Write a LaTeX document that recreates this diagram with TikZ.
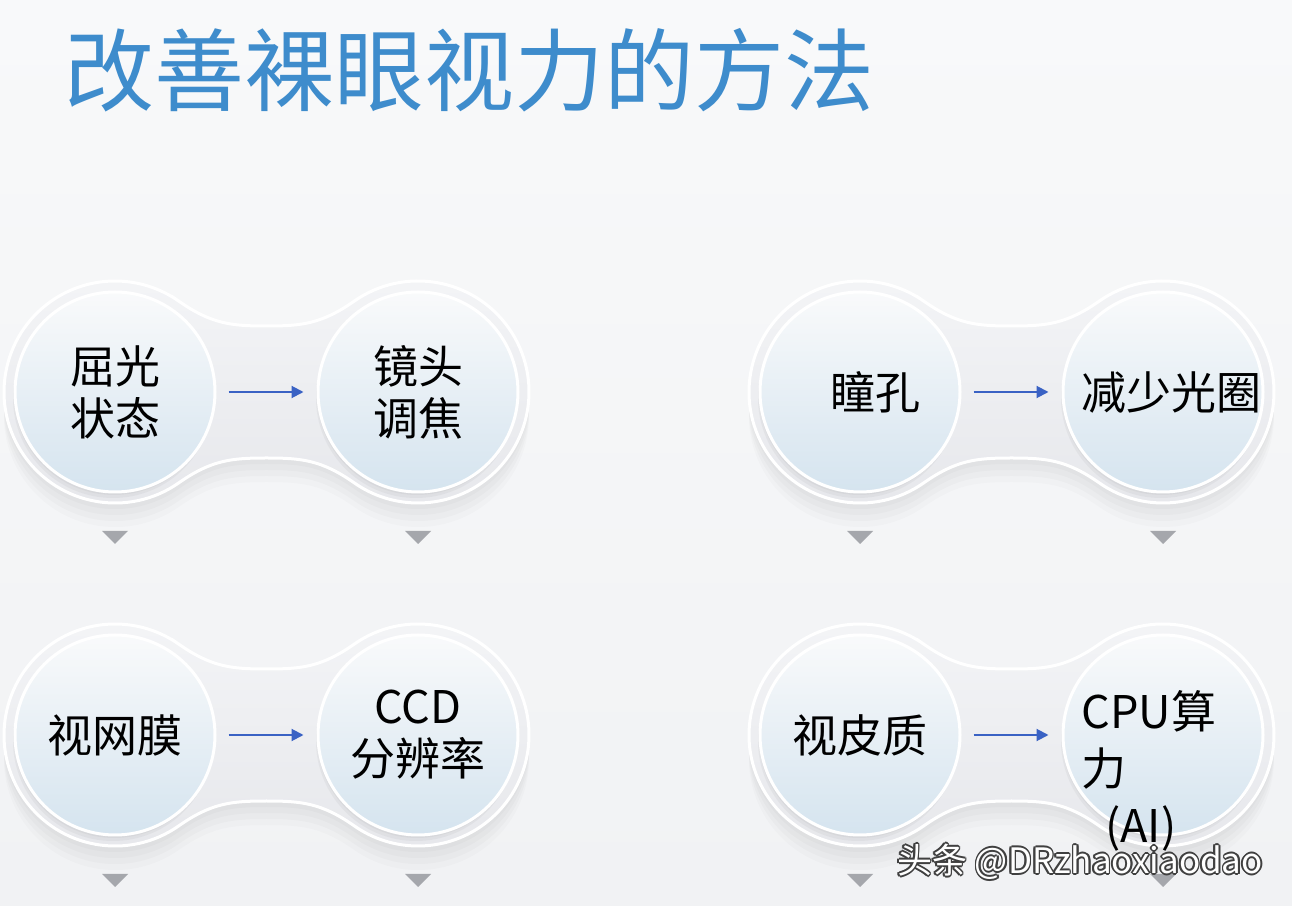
\documentclass[tikz,border=0pt]{standalone}
\usepackage{fontspec}
\setmainfont{Noto Sans CJK SC}
\usetikzlibrary{arrows.meta,shadows}

\definecolor{titleblue}{RGB}{62,140,204}
\definecolor{arrowblue}{RGB}{58,98,196}
\definecolor{markgray}{RGB}{165,167,172}
\definecolor{bgtop}{RGB}{248,249,250}
\definecolor{bgbot}{RGB}{241,242,244}
\definecolor{pilltop}{RGB}{244,245,247}
\definecolor{pillbot}{RGB}{230,231,235}
\definecolor{circtop}{RGB}{249,250,251}
\definecolor{circbot}{RGB}{213,228,239}

\pgfdeclarelayer{bg}
\pgfdeclarelayer{back}
\pgfsetlayers{bg,back,main}

% outline of one double-lens holder, left lens centre at the origin
\newcommand{\lensholder}{(55:111)
  .. controls +(-35:40) and +(-35,0) .. (151.5,66)
  .. controls +(35,0) and +(-145:40) .. (239.33,90.93)
  arc[start angle=125, end angle=-125, radius=111]
  .. controls +(145:40) and +(35,0) .. (151.5,-66)
  .. controls +(-35,0) and +(35:40) .. (63.67,-90.93)
  arc[start angle=-55, end angle=-305, radius=111] -- cycle}

\begin{document}
\begin{tikzpicture}[x=0.5pt, y=0.5pt]
    \useasboundingbox (0,0) rectangle (1292,906);
    \begin{pgfonlayer}{bg}
        \fill[top color=bgtop, bottom color=bgbot] (0,0) rectangle (1292,906);
    \end{pgfonlayer}

    \node[anchor=west, inner sep=0, text=titleblue, font=\fontsize{45}{50}\selectfont] (title) at (64,836) {改善裸眼视力的方法};

    \begin{scope}[every node/.style={circle, minimum size=100pt, inner sep=0, draw=white, line width=1.5pt,
            top color=circtop, bottom color=circbot, align=center, font=\fontsize{22.5}{26}\selectfont,
            drop shadow={opacity=.08, shadow xshift=-0.5pt, shadow yshift=-1.5pt},
            drop shadow={opacity=.08, shadow xshift=-1pt, shadow yshift=-3pt}}]
        \node (qg) at (115,514) {屈光\\状态};
        \node (jt) at (418,514) {\rule{0pt}{14pt}镜头\\调焦};
        \node (tk) at (860,514) {\hspace*{15pt}瞳孔};
        \node (gq) at (1163,514) {\hspace*{8pt}减少光圈};
        \node (sw) at (115,171) {视网膜};
        \node (fb) at (418,171) {CCD\\分辨率};
        \node (sp) at (860,171) {视皮质};
        \node (sl) at (1163,171) {};
    \end{scope}

    \node[anchor=north west, inner sep=0, align=left, font=\fontsize{22.5}{28.5}\selectfont] (cpu) at (1081,216) {CPU算\\力\\\hspace*{12pt}(AI)};

    \begin{pgfonlayer}{back}
        \foreach \n in {qg,tk,sw,sp}
            \path[shift={(\n.center)}, top color=pilltop, bottom color=pillbot, draw=white, line width=1.5pt,
                drop shadow={opacity=.04, shadow xshift=0pt, shadow yshift=-3pt},
                drop shadow={opacity=.04, shadow xshift=0pt, shadow yshift=-6pt},
                drop shadow={opacity=.04, shadow xshift=0pt, shadow yshift=-9pt},
                drop shadow={opacity=.03, shadow xshift=0pt, shadow yshift=-12pt}] \lensholder;
    \end{pgfonlayer}

    \begin{scope}[every path/.style={draw=arrowblue, line width=1pt, -{Triangle[length=6pt, width=6pt]},
            shorten <=6pt, shorten >=6.5pt}]
        \path (qg) edge (jt);
        \path (tk) edge (gq);
        \path (sw) edge (fb);
        \path (sp) edge (sl);
    \end{scope}

    % small markers under every lens
    \foreach \n in {qg,jt,tk,gq,sw,fb,sp,sl}
        \fill[markgray] ([shift={(-13,-139)}]\n.center) -- ++(26,0) -- ++(-13,-13) -- cycle;

    % watermark
    \foreach \a in {0,45,...,315}
        \node[text=black!75, font=\fontsize{17.5}{20}\selectfont] at ([shift={(\a:1.8)}]1080,44) {头条 @DRzhaoxiaodao};
    \node[text=white, font=\fontsize{17.5}{20}\selectfont] (mark) at (1080,44) {头条 @DRzhaoxiaodao};
\end{tikzpicture}
\end{document}
